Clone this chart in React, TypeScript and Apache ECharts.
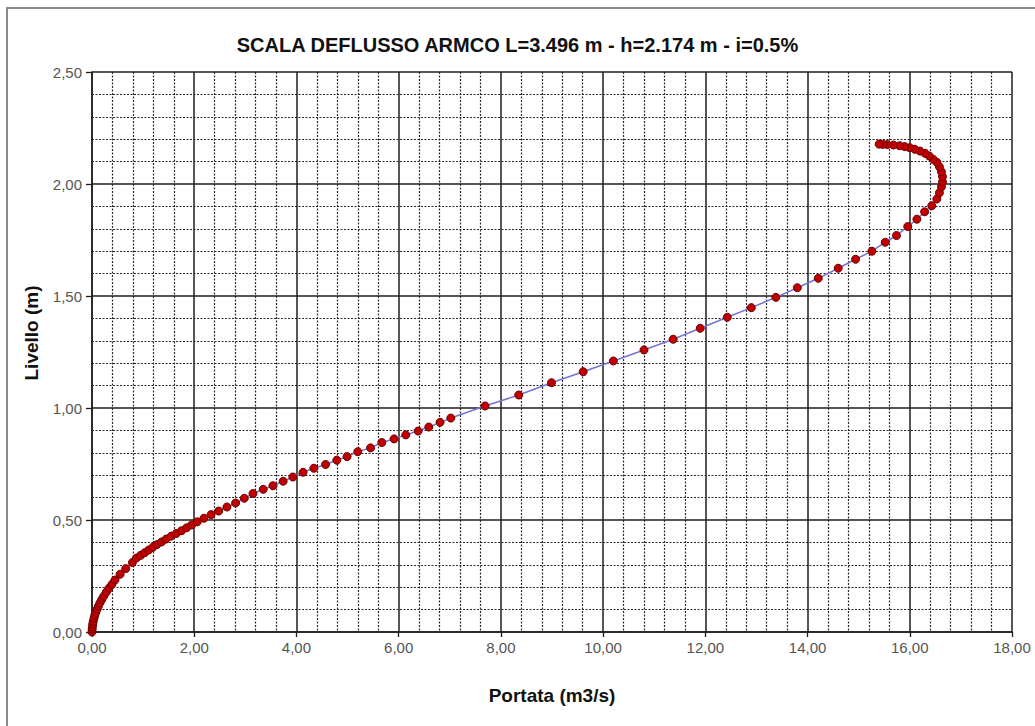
import React, { useEffect, useRef } from "react";
import * as echarts from "echarts";

const TITLE = "SCALA DEFLUSSO ARMCO L=3.496 m - h=2.174 m - i=0.5%";
const X_NAME = "Portata (m3/s)";
const Y_NAME = "Livello (m)";

// Portata (m3/s)
const portata: number[] = [
  0, 0.003, 0.008, 0.015, 0.025, 0.04, 0.055, 0.075, 0.1, 0.125, 0.155, 0.19,
  0.23, 0.28, 0.33, 0.39, 0.45, 0.55, 0.66, 0.79, 0.87, 0.95, 1.03, 1.11, 1.19,
  1.27, 1.36, 1.45, 1.55, 1.65, 1.75, 1.85, 1.95, 2.06, 2.19, 2.33, 2.48, 2.64,
  2.81, 2.98, 3.15, 3.35, 3.54, 3.74, 3.93, 4.13, 4.34, 4.57, 4.79, 4.99, 5.2,
  5.45, 5.67, 5.91, 6.14, 6.38, 6.59, 6.81, 7.02, 7.69, 8.35, 8.99, 9.61, 10.2,
  10.8, 11.37, 11.9, 12.43, 12.9, 13.38, 13.8, 14.21, 14.6, 14.94, 15.26, 15.52,
  15.74, 15.96, 16.14, 16.29, 16.43, 16.53, 16.58, 16.62, 16.64, 16.64, 16.62,
  16.58, 16.53, 16.46, 16.38, 16.3, 16.2, 16.1, 16.0, 15.9, 15.8, 15.68, 15.56,
  15.47, 15.4,
];

// Livello (m)
const livello: number[] = [
  0, 0.012, 0.024, 0.036, 0.048, 0.062, 0.075, 0.088, 0.102, 0.115, 0.13, 0.145,
  0.16, 0.178, 0.195, 0.213, 0.232, 0.258, 0.283, 0.31, 0.33, 0.342, 0.354,
  0.366, 0.378, 0.39, 0.402, 0.415, 0.428, 0.44, 0.452, 0.465, 0.478, 0.492,
  0.508, 0.524, 0.54, 0.558, 0.576, 0.597, 0.618, 0.637, 0.653, 0.673, 0.692,
  0.713, 0.731, 0.748, 0.767, 0.783, 0.805, 0.822, 0.846, 0.862, 0.88, 0.897,
  0.915, 0.936, 0.955, 1.009, 1.058, 1.113, 1.162, 1.21, 1.259, 1.307, 1.356,
  1.405, 1.448, 1.494, 1.537, 1.579, 1.624, 1.664, 1.7, 1.74, 1.77, 1.81, 1.843,
  1.876, 1.903, 1.933, 1.961, 1.988, 2.01, 2.033, 2.055, 2.077, 2.097, 2.11,
  2.125, 2.137, 2.147, 2.155, 2.162, 2.167, 2.171, 2.174, 2.176, 2.177, 2.178,
];

const fmt = (v: number) => v.toFixed(2).replace(".", ",");

export default function App() {
  const ref = useRef<HTMLDivElement>(null);
  useEffect(() => {
    if (!ref.current) return;
    const chart = echarts.init(ref.current, null, { renderer: "svg" });
    const data = portata.map((x, i) => [x, livello[i]]);
    const font = "'Liberation Sans', Arial, sans-serif";
    const majorLine = { color: "#1e1e1e", width: 1.5, type: "solid" as const };
    const minorLine = { color: "#2a2a2a", width: 1.2, type: [2, 1.5] as any };
    chart.setOption({
      animation: false,
      backgroundColor: "#fff",
      title: {
        text: TITLE,
        left: "center",
        top: 30,
        textStyle: { fontFamily: font, fontWeight: "bold", fontSize: 20, color: "#111" },
      },
      grid: { left: 92, right: 23, top: 72, bottom: 94, containLabel: false },
      xAxis: {
        type: "value",
        min: 0,
        max: 18,
        interval: 2,
        axisLine: { show: true, onZero: false, lineStyle: { color: "#1e1e1e", width: 1.5 } },
        axisTick: { show: true, length: 5, inside: false, lineStyle: { color: "#1e1e1e", width: 1.3 } },
        minorTick: { show: false, splitNumber: 5 },
        axisLabel: { formatter: fmt, color: "#555", fontSize: 15, fontFamily: font, margin: 8 },
        splitLine: { show: true, lineStyle: majorLine },
        minorSplitLine: { show: true, lineStyle: minorLine },
      },
      yAxis: {
        type: "value",
        min: 0,
        max: 2.5,
        interval: 0.5,
        axisLine: { show: true, onZero: false, lineStyle: { color: "#1e1e1e", width: 1.5 } },
        axisTick: { show: true, length: 6, inside: false, lineStyle: { color: "#1e1e1e", width: 1.3 } },
        minorTick: { show: false, splitNumber: 5 },
        axisLabel: { formatter: fmt, color: "#555", fontSize: 15, fontFamily: font, margin: 10 },
        splitLine: { show: true, lineStyle: majorLine },
        minorSplitLine: { show: true, lineStyle: minorLine },
      },
      graphic: [
        {
          type: "rect",
          shape: { x: 7, y: 8, width: 1040, height: 740 },
          style: { fill: "none", stroke: "#8a8a8a", lineWidth: 2 },
          silent: true,
        },
        {
          type: "text",
          x: 552,
          y: 695,
          style: {
            text: X_NAME,
            fontFamily: font,
            fontWeight: "bold",
            fontSize: 19,
            fill: "#111",
            align: "center",
            verticalAlign: "middle",
          },
        },
        {
          type: "text",
          x: 31,
          y: 333,
          rotation: Math.PI / 2,
          style: {
            text: Y_NAME,
            fontFamily: font,
            fontWeight: "bold",
            fontSize: 19,
            fill: "#111",
            align: "center",
            verticalAlign: "middle",
          },
        },
      ],
      series: [
        {
          type: "line",
          data,
          smooth: false,
          symbol: "circle",
          symbolSize: 8,
          showSymbol: true,
          lineStyle: { color: "#7474d4", width: 1.5 },
          itemStyle: { color: "#c00000", borderColor: "#6a0000", borderWidth: 1 },
          z: 5,
        },
      ],
    });
    return () => chart.dispose();
  }, []);
  return (
    <div
      ref={ref}
      style={{ position: "fixed", left: 0, top: 0, width: 1035, height: 726 }}
    />
  );
}
